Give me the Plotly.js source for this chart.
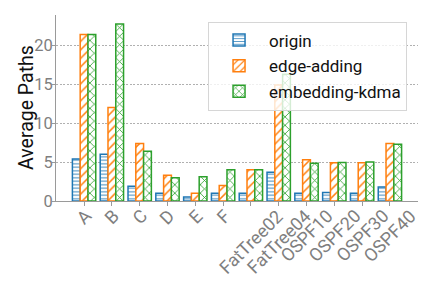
<!DOCTYPE html>
<html><head><meta charset="utf-8">
<script src="https://cdn.plot.ly/plotly-3.0.1.min.js"></script>
<style>html,body{margin:0;padding:0;background:#fff}#chart{width:424px;height:292px}</style>
</head><body><div id="chart"></div>
<script>
const categories = ['A','B','C','D','E','F','FatTree02','FatTree04','OSPF10','OSPF20','OSPF30','OSPF40'];
const originValues = [5.4, 6.0, 1.9, 1.0, 0.5, 1.0, 1.0, 3.7, 1.0, 1.1, 1.0, 1.8];
const edgeAddingValues = [21.4, 12.0, 7.4, 3.3, 1.0, 2.0, 4.0, 14.9, 5.3, 4.9, 4.9, 7.4];
const embeddingKdmaValues = [21.4, 22.75, 6.4, 3.0, 3.1, 4.0, 4.0, 16.3, 4.85, 4.95, 5.0, 7.3];
const seriesNames = ['origin', 'edge-adding', 'embedding-kdma'];
const yTickValues = [0, 5, 10, 15, 20];
const yTitle = 'Average Paths';

const colors = ['#1f77b4', '#ff7f0e', '#2ca02c'];
const shapes = ['-', '/', 'x'];
const sizes = [3.5, 6, 6];
const allValues = [originValues, edgeAddingValues, embeddingKdmaValues];

const traces = allValues.map((vals, i) => ({
  type: 'bar',
  name: seriesNames[i],
  legendgroup: 'g' + i,
  x: categories,
  y: vals,
  marker: {
    color: 'white',
    line: {color: colors[i], width: 1.5},
    pattern: {shape: shapes[i], fgcolor: colors[i], bgcolor: 'white', size: sizes[i], solidity: 0.25, fillmode: 'replace'}
  },
  hoverinfo: 'skip'
}));

const tickFontSize = 18;
const fontFam = 'Roboto, "DejaVu Sans", sans-serif';
const canvas = document.createElement('canvas');
const ctx = canvas.getContext('2d');
ctx.font = tickFontSize + 'px Roboto';
const capH = 0.71 * tickFontSize;
const annotations = categories.map(c => {
  const w = ctx.measureText(c).width;
  const off = 7 + (w + capH) / (2 * Math.SQRT2);
  return {
    text: c, x: c, xref: 'x', y: 0, yref: 'paper', yshift: -off,
    xanchor: 'center', yanchor: 'middle', showarrow: false, textangle: -45,
    font: {family: fontFam, size: tickFontSize, color: '#7f7f7f'}
  };
});
annotations.push({
  text: yTitle, x: 0, xref: 'paper', xshift: -30, y: 0.5, yref: 'paper',
  xanchor: 'center', yanchor: 'middle', showarrow: false, textangle: -90,
  font: {family: fontFam, size: 19.5, color: '#111'}
});

const layout = {
  width: 424, height: 292,
  margin: {l: 56, r: 6, t: 15, b: 91, pad: 0},
  paper_bgcolor: 'white', plot_bgcolor: 'white',
  barmode: 'group', bargap: 0.16, bargroupgap: 0,
  font: {family: fontFam},
  xaxis: {
    type: 'category', range: [-1.01, 12.01], showgrid: false, zeroline: false,
    showline: true, linecolor: '#9a9a9a', linewidth: 1,
    ticks: 'outside', ticklen: 3.5, tickcolor: '#9a9a9a', tickwidth: 1,
    showticklabels: false
  },
  yaxis: {
    range: [0, 23.9], tickvals: yTickValues, ticktext: yTickValues.map(String),
    showgrid: true, gridcolor: '#b0b0b0', griddash: '2px,1.5px', gridwidth: 1,
    zeroline: false, showline: true, linecolor: '#9a9a9a', linewidth: 1,
    ticks: 'outside', ticklen: 3, tickcolor: '#9a9a9a', ticklabelstandoff: -4,
    tickfont: {family: fontFam, size: 16.5, color: '#7f7f7f'}
  },
  legend: {
    x: 0.42, y: 0.965, xanchor: 'left', yanchor: 'top',
    bgcolor: 'rgba(255,255,255,0.8)', bordercolor: '#d6d6d6', borderwidth: 1,
    font: {family: fontFam, size: 17, color: '#111'},
    traceorder: 'grouped', tracegroupgap: 0.5, itemwidth: 50
  },
  annotations: annotations,
  showlegend: true
};

Plotly.newPlot('chart', traces, layout, {staticPlot: true, displayModeBar: false});
</script>
</body></html>
